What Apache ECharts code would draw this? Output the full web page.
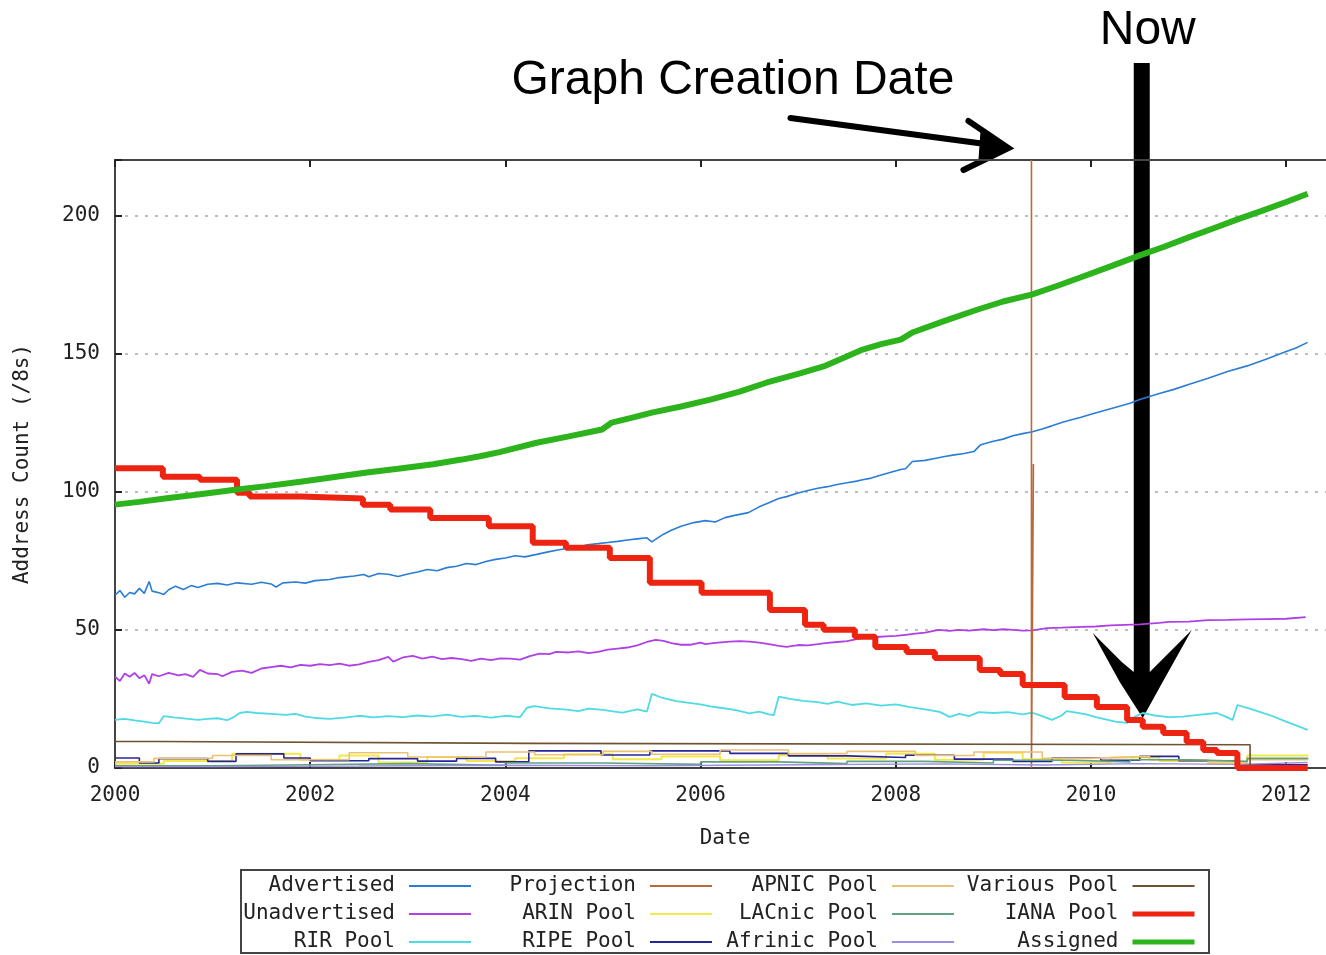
<!DOCTYPE html>
<html><head><meta charset="utf-8">
<script src="https://cdn.jsdelivr.net/npm/echarts@6/dist/echarts.min.js"></script>
<style>html,body{margin:0;padding:0;background:#fff}#c{width:1326px;height:955px}</style>
</head><body><div id="c"></div>
<script>
// ---- tick labels ----
const xTickYears = [2000, 2002, 2004, 2006, 2008, 2010, 2012];
const yTickValues = [0, 50, 100, 150, 200];
const creationDate = 2009.40;
const nowDate = 2010.52;

// ---- series values [year, /8 count] ----
const advertised = [[2000.00,62.5],[2000.05,64.2],[2000.10,61.8],[2000.15,63.5],[2000.20,63.0],[2000.25,65.0],[2000.30,63.2],[2000.35,67.5],[2000.38,64.0],[2000.45,63.4],[2000.50,62.8],[2000.55,64.5],[2000.62,65.8],[2000.70,64.6],[2000.78,66.0],[2000.85,65.3],[2000.95,66.5],[2001.05,66.8],[2001.15,66.2],[2001.25,67.0],[2001.40,66.5],[2001.50,67.2],[2001.60,66.6],[2001.65,65.5],[2001.72,67.0],[2001.85,67.3],[2001.95,66.9],[2002.05,67.8],[2002.20,68.2],[2002.30,68.9],[2002.45,69.5],[2002.55,70.0],[2002.60,69.2],[2002.70,70.4],[2002.80,70.1],[2002.90,69.3],[2003.00,70.2],[2003.10,70.9],[2003.20,71.8],[2003.30,71.4],[2003.40,72.5],[2003.50,73.0],[2003.60,74.0],[2003.70,73.6],[2003.80,74.7],[2003.90,75.5],[2004.00,76.0],[2004.10,76.8],[2004.20,76.4],[2004.32,77.3],[2004.45,78.3],[2004.55,79.0],[2004.65,79.5],[2004.75,80.0],[2004.84,80.8],[2004.95,81.2],[2005.05,81.6],[2005.15,82.0],[2005.25,82.5],[2005.35,82.9],[2005.45,83.3],[2005.50,81.8],[2005.55,83.0],[2005.62,84.6],[2005.70,86.0],[2005.80,87.5],[2005.93,88.8],[2006.05,89.5],[2006.15,89.0],[2006.25,90.6],[2006.35,91.4],[2006.49,92.4],[2006.60,94.5],[2006.70,96.0],[2006.80,97.5],[2006.88,98.2],[2007.00,99.5],[2007.10,100.4],[2007.20,101.2],[2007.30,101.8],[2007.40,102.6],[2007.50,103.2],[2007.60,103.8],[2007.66,104.3],[2007.75,104.9],[2007.85,106.0],[2007.95,107.0],[2008.05,108.0],[2008.10,108.3],[2008.17,110.9],[2008.30,111.3],[2008.40,112.0],[2008.50,112.7],[2008.60,113.3],[2008.70,113.8],[2008.80,114.5],[2008.87,117.0],[2009.00,118.2],[2009.10,119.0],[2009.20,120.2],[2009.30,121.0],[2009.40,121.7],[2009.50,122.7],[2009.60,123.8],[2009.70,125.0],[2009.80,126.0],[2009.89,126.8],[2010.00,128.0],[2010.20,130.0],[2010.40,132.0],[2010.50,133.3],[2010.70,135.5],[2010.85,137.0],[2011.00,138.8],[2011.20,141.0],[2011.40,143.5],[2011.60,145.5],[2011.80,148.0],[2012.00,150.7],[2012.10,152.0],[2012.22,154.0]];

const unadvertised = [[2000.00,33.0],[2000.05,31.5],[2000.10,34.2],[2000.15,33.0],[2000.20,34.4],[2000.25,32.5],[2000.30,33.6],[2000.35,30.5],[2000.38,34.0],[2000.45,33.2],[2000.55,34.4],[2000.65,33.5],[2000.72,34.0],[2000.80,33.0],[2000.87,35.5],[2000.95,34.2],[2001.05,34.0],[2001.10,33.2],[2001.20,34.8],[2001.30,35.2],[2001.40,34.4],[2001.50,36.0],[2001.60,36.5],[2001.70,37.0],[2001.80,36.4],[2001.90,37.3],[2002.00,37.0],[2002.10,37.6],[2002.20,37.2],[2002.30,37.8],[2002.40,37.0],[2002.50,37.5],[2002.60,38.4],[2002.70,39.0],[2002.80,40.2],[2002.85,38.5],[2002.95,40.0],[2003.05,40.6],[2003.15,39.6],[2003.25,40.3],[2003.35,39.4],[2003.45,39.8],[2003.55,39.4],[2003.65,38.8],[2003.75,39.6],[2003.85,39.0],[2003.95,39.7],[2004.05,39.6],[2004.15,39.2],[2004.25,40.5],[2004.35,41.4],[2004.45,41.2],[2004.52,42.0],[2004.65,41.8],[2004.75,42.2],[2004.85,41.6],[2004.95,42.0],[2005.05,42.8],[2005.15,43.2],[2005.25,43.6],[2005.35,44.4],[2005.45,45.6],[2005.54,46.4],[2005.62,46.0],[2005.70,45.2],[2005.80,44.6],[2005.90,44.6],[2006.00,45.4],[2006.05,44.8],[2006.15,45.3],[2006.30,45.7],[2006.40,45.9],[2006.50,45.7],[2006.60,45.4],[2006.70,44.8],[2006.80,44.2],[2006.88,43.8],[2007.00,44.5],[2007.10,44.4],[2007.20,44.8],[2007.30,45.3],[2007.40,45.6],[2007.50,45.9],[2007.60,46.6],[2007.70,47.2],[2007.80,47.4],[2007.90,47.6],[2008.00,47.8],[2008.10,48.2],[2008.20,48.6],[2008.30,49.0],[2008.44,50.0],[2008.55,49.6],[2008.65,50.0],[2008.75,49.7],[2008.90,50.2],[2009.00,49.9],[2009.10,50.2],[2009.20,50.0],[2009.30,49.7],[2009.40,49.8],[2009.55,50.6],[2009.70,50.8],[2009.90,51.1],[2010.05,51.2],[2010.20,51.6],[2010.35,51.8],[2010.50,52.0],[2010.70,52.5],[2010.80,52.9],[2011.00,53.0],[2011.20,53.5],[2011.40,53.6],[2011.60,53.8],[2011.80,53.9],[2012.00,54.0],[2012.20,54.6]];

const rirPool = [[2000.00,17.4],[2000.10,17.8],[2000.20,17.2],[2000.30,16.8],[2000.38,16.3],[2000.45,16.2],[2000.50,18.8],[2000.60,18.3],[2000.75,17.8],[2000.85,17.4],[2000.95,17.8],[2001.05,18.0],[2001.15,17.3],[2001.22,18.5],[2001.28,19.9],[2001.35,20.3],[2001.45,19.9],[2001.60,19.6],[2001.75,19.2],[2001.85,19.6],[2001.95,18.6],[2002.05,18.1],[2002.20,17.8],[2002.35,18.2],[2002.50,18.9],[2002.65,18.3],[2002.80,18.8],[2002.95,18.4],[2003.10,19.0],[2003.25,18.6],[2003.40,19.3],[2003.55,18.5],[2003.70,18.9],[2003.85,18.2],[2004.00,18.9],[2004.15,18.4],[2004.22,21.8],[2004.30,22.4],[2004.45,21.6],[2004.60,21.2],[2004.75,20.6],[2004.85,21.5],[2005.00,21.0],[2005.10,20.5],[2005.20,20.0],[2005.35,21.2],[2005.45,20.4],[2005.50,26.8],[2005.60,25.5],[2005.75,24.2],[2005.90,23.5],[2006.00,23.0],[2006.10,22.3],[2006.20,21.8],[2006.35,21.0],[2006.50,19.8],[2006.60,20.4],[2006.70,19.4],[2006.75,19.1],[2006.80,25.8],[2006.90,25.1],[2007.05,24.3],[2007.20,23.8],[2007.30,23.2],[2007.40,24.0],[2007.55,22.8],[2007.70,23.4],[2007.85,22.6],[2008.00,23.0],[2008.15,22.0],[2008.30,21.2],[2008.45,20.3],[2008.55,18.5],[2008.65,19.6],[2008.75,18.8],[2008.85,20.2],[2009.00,19.9],[2009.15,20.2],[2009.30,19.4],[2009.40,20.0],[2009.50,18.8],[2009.60,17.4],[2009.70,19.0],[2009.75,20.6],[2009.85,20.0],[2009.95,19.4],[2010.05,18.4],[2010.15,17.6],[2010.25,16.8],[2010.37,16.3],[2010.45,18.6],[2010.53,19.9],[2010.65,19.0],[2010.80,18.4],[2010.94,18.6],[2011.10,19.2],[2011.29,19.9],[2011.38,18.6],[2011.45,17.4],[2011.50,22.8],[2011.65,21.2],[2011.85,18.9],[2012.00,16.8],[2012.22,13.8]];

const projection = [[creationDate - 0.01,220],[creationDate - 0.01,0],[creationDate + 0.01,0],[creationDate + 0.01,110]];

const arinPool = [[2000.00,1.5],[2000.50,2.5],[2001.20,5.2],[2001.90,3.0],[2002.30,4.5],[2002.70,2.0],[2003.20,4.0],[2003.60,2.5],[2004.10,3.5],[2004.60,5.0],[2005.10,3.2],[2005.60,4.2],[2006.20,2.8],[2006.80,4.6],[2007.30,3.4],[2007.90,5.2],[2008.40,3.0],[2008.90,5.5],[2009.30,3.2],[2009.70,2.0],[2010.20,3.8],[2010.70,2.5],[2011.20,1.5],[2011.60,4.5],[2012.22,4.2]];
const ripePool = [[2000.00,3.6],[2000.25,1.8],[2000.45,3.4],[2000.95,2.4],[2001.24,5.1],[2001.73,3.6],[2002.00,2.6],[2002.60,3.4],[2003.10,2.5],[2003.50,3.5],[2003.90,2.2],[2004.24,6.2],[2004.98,4.7],[2005.48,6.2],[2006.30,5.3],[2006.90,4.4],[2007.50,3.8],[2008.10,4.6],[2008.60,3.2],[2009.20,2.4],[2009.60,3.6],[2010.10,2.8],[2010.50,4.2],[2010.90,2.6],[2011.50,1.2],[2012.22,1.0]];
const apnicPool = [[2000.00,2.2],[2000.40,3.5],[2001.00,4.5],[2001.60,3.0],[2002.40,5.5],[2003.00,4.0],[2003.80,5.8],[2004.30,4.8],[2005.00,6.0],[2005.50,5.0],[2006.20,6.5],[2006.90,5.2],[2007.50,6.0],[2008.20,4.5],[2008.80,5.8],[2009.50,3.5],[2010.00,4.2],[2010.60,3.0],[2011.20,2.2],[2011.60,3.0],[2012.22,2.8]];
const lacnicPool = [[2000.00,0.8],[2001.00,1.2],[2002.00,1.6],[2003.00,1.0],[2004.00,1.8],[2005.00,1.3],[2006.00,2.2],[2006.80,1.6],[2007.50,2.4],[2008.30,1.8],[2009.00,2.8],[2009.80,2.2],[2010.40,3.0],[2011.00,2.4],[2011.60,3.5],[2012.22,3.2]];
const afrinicPool = [[2000.00,0.5],[2001.00,0.7],[2002.50,1.0],[2004.00,0.8],[2005.50,1.2],[2007.00,1.5],[2008.50,1.1],[2009.50,1.6],[2010.50,1.3],[2011.50,2.0],[2012.22,1.8]];
const variousPool = [[2000.00,9.6],[2000.45,8.9],[2004.25,8.4],[2011.63,0],[2012.22,0]];

const ianaPool = [[2000.00,108.5],[2000.49,105.4],[2000.87,104.3],[2001.25,99.6],[2001.38,98.2],[2001.90,97.5],[2002.54,95.3],[2002.82,93.5],[2003.23,90.5],[2003.83,87.5],[2004.28,81.5],[2004.62,79.7],[2005.07,76.0],[2005.48,67.0],[2006.01,63.4],[2006.71,57.2],[2007.07,51.8],[2007.26,50.0],[2007.58,47.5],[2007.79,43.8],[2008.11,42.0],[2008.40,39.8],[2008.86,35.5],[2009.07,34.0],[2009.30,30.0],[2009.73,25.7],[2010.06,22.1],[2010.37,17.4],[2010.53,14.9],[2010.74,12.7],[2010.98,9.4],[2011.15,6.5],[2011.29,5.4],[2011.50,0],[2012.22,0]];

const assigned = [[2000.00,95.3],[2000.25,96.3],[2000.53,97.6],[2000.85,99.0],[2001.21,100.6],[2001.55,102.0],[2001.90,103.6],[2002.25,105.3],[2002.58,106.9],[2002.90,108.3],[2003.26,109.9],[2003.55,111.6],[2003.74,112.8],[2003.94,114.3],[2004.32,117.7],[2004.65,120.0],[2004.99,122.5],[2005.09,125.0],[2005.30,126.8],[2005.50,128.6],[2005.80,130.8],[2006.10,133.3],[2006.40,136.2],[2006.68,139.5],[2007.00,142.6],[2007.26,145.3],[2007.45,148.2],[2007.66,151.4],[2007.85,153.4],[2008.05,155.0],[2008.17,157.6],[2008.50,161.8],[2008.84,165.9],[2009.10,168.8],[2009.40,171.4],[2009.65,174.4],[2009.89,177.5],[2010.20,181.5],[2010.50,185.5],[2010.75,188.6],[2011.00,192.0],[2011.25,195.2],[2011.50,198.5],[2011.75,201.6],[2012.00,204.8],[2012.22,207.8]];

// ---- names / colours ----
const names = ['Advertised','Unadvertised','RIR Pool','Projection','ARIN Pool','RIPE Pool','APNIC Pool','LACnic Pool','Afrinic Pool','Various Pool','IANA Pool','Assigned'];
const colors = ['#2a7dd6','#b040e6','#4fdbe3','#b8693a','#f3e84a','#26269a','#ebc174','#5fa382','#9b8fe2','#6e5232','#ee2412','#2db31c'];
const values = [advertised, unadvertised, rirPool, projection, arinPool, ripePool, apnicPool, lacnicPool, afrinicPool, variousPool, ianaPool, assigned];
const widths = [1.6,1.8,1.8,1.6,2,1.6,1.6,1.6,1.4,1.6,6,6];
const stepped = [false,false,false,false,'end','end','end','end','end','end','end',false];
const legendColumns = [['Advertised','Unadvertised','RIR Pool'],['Projection','ARIN Pool','RIPE Pool'],['APNIC Pool','LACnic Pool','Afrinic Pool'],['Various Pool','IANA Pool','Assigned']];
const legendRight = [854, 613, 371, 129];

const mono = 'DejaVu Sans Mono';
const chart = echarts.init(document.getElementById('c'), null, {renderer:'canvas'});

const series = names.map((n,i) => ({
  name: n, type: 'line', data: values[i], color: colors[i],
  symbol: 'none', step: stepped[i] || false,
  lineStyle: {width: widths[i], color: colors[i]},
  emphasis: {disabled: true}, silent: true
}));

const legends = legendColumns.map((col, k) => ({
  orient: 'vertical', align: 'right', right: legendRight[k], top: 874,
  itemWidth: 62, itemHeight: 14, itemGap: 4, padding: 0, selectedMode: false,
  textStyle: {fontFamily: mono, fontSize: 21, color: '#222', lineHeight: 24, padding: [0, 9, 0, 0]},
  itemStyle: {color: 'transparent', borderColor: 'transparent', borderWidth: 0},
  data: col.map(n => {
    const i = names.indexOf(n);
    return {name: n, lineStyle: {width: widths[i] > 3 ? 5 : 2}};
  })
}));

const xFmt = v => xTickYears.indexOf(v) >= 0 ? String(v) : '';
const yFmt = v => yTickValues.indexOf(v) >= 0 ? String(v) : '';

chart.setOption({
  animation: false,
  backgroundColor: '#fff',
  grid: {left: 115, top: 160, right: -9, bottom: 187, containLabel: false, outerBoundsMode: 'none'},
  xAxis: [{
    type: 'value', min: 2000, max: 2012.5, interval: 2,
    name: 'Date', nameLocation: 'middle', nameGap: 60,
    nameTextStyle: {fontFamily: mono, fontSize: 21, color: '#222'},
    axisLine: {onZero: false, lineStyle: {color: '#444', width: 2}},
    axisTick: {inside: true, length: 6, lineStyle: {color: '#222', width: 2}},
    axisLabel: {formatter: xFmt, margin: 17, fontFamily: mono, fontSize: 21, color: '#222'},
    splitLine: {show: false}
  }, {
    type: 'value', position: 'top', min: 2000, max: 2012.5, interval: 2,
    axisLine: {onZero: false, lineStyle: {color: '#444', width: 2}},
    axisTick: {inside: true, length: 7, lineStyle: {color: '#222', width: 2}},
    axisLabel: {show: false}, splitLine: {show: false}
  }],
  yAxis: {
    type: 'value', min: 0, max: 220, interval: 50,
    name: 'Address Count (/8s)', nameLocation: 'middle', nameGap: 82, nameRotate: 90,
    nameTextStyle: {fontFamily: mono, fontSize: 21, color: '#222'},
    axisLine: {show: true, onZero: false, lineStyle: {color: '#444', width: 2}},
    axisTick: {show: true, inside: true, length: 7, lineStyle: {color: '#222', width: 2}},
    axisLabel: {formatter: yFmt, margin: 15, fontFamily: mono, fontSize: 21, color: '#222'},
    splitLine: {show: true, lineStyle: {color: '#a8a8a8', width: 1.5, type: [3, 7]}}
  },
  legend: legends,
  series: series
});

// ---- annotations anchored to the date scale ----
const cx = chart.convertToPixel({xAxisIndex: 0}, creationDate);
const nx = chart.convertToPixel({xAxisIndex: 0}, nowDate);
chart.setOption({
  graphic: [
    {type: 'rect', shape: {x: 241, y: 870, width: 968, height: 83}, style: {fill: 'none', stroke: '#444', lineWidth: 2}, silent: true},
    {type: 'text', x: cx - 521, y: 81, style: {text: 'Graph Creation Date', font: '48px "Liberation Sans", Arial, sans-serif', fill: '#000', verticalAlign: 'middle', align: 'left'}, silent: true},
    {type: 'text', x: nx + 6, y: 31, style: {text: 'Now', font: '48px "Liberation Sans", Arial, sans-serif', fill: '#000', verticalAlign: 'middle', align: 'center'}, silent: true},
    {type: 'polyline', shape: {points: [[cx - 242, 118], [cx - 32, 146]]}, style: {stroke: '#000', lineWidth: 6, lineCap: 'round'}, silent: true},
    {type: 'polyline', shape: {points: [[cx - 64, 121], [cx - 24, 148], [cx - 69, 170]]}, style: {stroke: '#000', lineWidth: 6, lineJoin: 'miter', lineCap: 'round'}, silent: true},
    {type: 'polygon', shape: {points: [[cx - 52, 132], [cx - 24, 148], [cx - 54, 160]]}, style: {fill: '#000'}, silent: true},
    {type: 'rect', shape: {x: nx - 8, y: 63, width: 16, height: 625}, style: {fill: '#000'}, silent: true},
    {type: 'polygon', shape: {points: [[nx - 49, 633], [nx - 20, 662], [nx - 8, 672], [nx + 8, 672], [nx + 20, 660], [nx + 50, 630], [nx + 22, 680], [nx + 1, 718], [nx - 22, 682]]}, style: {fill: '#000'}, silent: true}
  ]
});
</script>
</body></html>
